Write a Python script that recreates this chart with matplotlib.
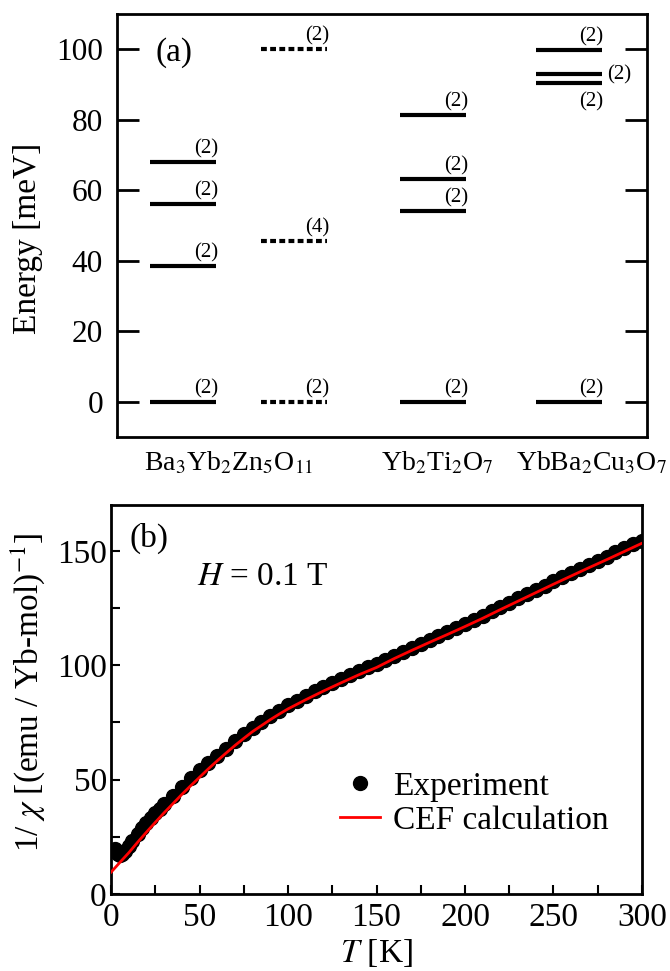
import matplotlib
matplotlib.use('Agg')
import matplotlib.pyplot as plt
from matplotlib.ticker import MultipleLocator
from matplotlib.lines import Line2D

plt.rcParams['font.family'] = ['Liberation Serif', 'DejaVu Serif']
plt.rcParams['mathtext.fontset'] = 'stix'

# ---- panel (a): CEF levels [meV] and degeneracies
compounds = ['Ba$_3$Yb$_2$Zn$_5$O$_{11}$', 'Yb$_2$Ti$_2$O$_7$', 'YbBa$_2$Cu$_3$O$_7$']
bayb_exp = [0, 38.6, 56.2, 68.1]
bayb_exp_deg = [2, 2, 2, 2]
bayb_calc = [0, 45.7, 100]
bayb_calc_deg = [2, 4, 2]
ybti = [0, 54.1, 63.3, 81.4]
ybti_deg = [2, 2, 2, 2]
ybba = [0, 90.3, 93.1, 99.8]
ybba_deg = [2, 2, 2, 2]

# ---- panel (b): inverse susceptibility
T_exp = [2, 3, 4, 5, 6, 8, 10, 12, 15, 17.5, 20, 22.5, 25, 27.5, 30, 35, 40, 45,
         50, 55, 60, 65, 70, 75, 80, 85, 90, 95, 100, 105, 110, 115, 120, 125,
         130, 135, 140, 145, 150, 155, 160, 165, 170, 175, 180, 185, 190, 195,
         200, 205, 210, 215, 220, 225, 230, 235, 240, 245, 250, 255, 260, 265,
         270, 275, 280, 285, 290, 295, 300]
inv_chi_exp = [19.5, 18.6, 17.6, 17.2, 17.5, 19.0, 21.0, 23.0, 26.3, 28.7, 31.0,
               33.1, 35.2, 37.2, 39.2, 43.0, 46.7, 50.5, 54.0, 57.3, 60.5, 63.5,
               66.8, 69.8, 72.6, 75.2, 77.7, 80.1, 82.4, 84.5, 86.5, 88.5, 90.4,
               92.2, 94.0, 95.7, 97.4, 99.0, 100.6, 102.3, 104.0, 105.7, 107.4,
               109.2, 111.0, 112.8, 114.5, 116.3, 118.1, 119.9, 121.7, 123.6,
               125.4, 127.3, 129.2, 131.0, 132.9, 134.7, 136.6, 138.4, 140.2,
               142.0, 143.9, 145.7, 147.5, 149.3, 151.1, 152.9, 154.3]
T_cef = [0, 5, 10, 15, 20, 25, 30, 35, 40, 45, 50, 55, 60, 65, 70, 75, 80, 85,
         90, 95, 100, 110, 120, 130, 140, 150, 160, 170, 180, 190, 200, 210,
         220, 230, 240, 250, 260, 270, 280, 290, 300]
inv_chi_cef = [9.5, 13.8, 18.0, 22.6, 27.0, 31.3, 35.5, 39.5, 43.5, 47.3, 51.0,
               54.7, 58.2, 61.6, 64.9, 68.0, 71.0, 73.6, 76.2, 78.6, 80.9, 84.9,
               88.7, 92.3, 95.8, 99.0, 102.9, 106.5, 110.0, 113.4, 116.9, 120.5,
               124.3, 128.0, 131.7, 135.4, 139.0, 142.6, 146.1, 149.7, 153.3]

fig = plt.figure(figsize=(6.7, 9.71), dpi=100)
ax1 = fig.add_axes([0.1746, 0.55, 0.791, 0.4356])
ax2 = fig.add_axes([0.1657, 0.0793, 0.7925, 0.4006])

# ---------------- (a)
centers = [1.244, 3.346, 5.966, 8.53]
hw = 0.62
columns = [(bayb_exp, bayb_exp_deg, '-'), (bayb_calc, bayb_calc_deg, (0, (1.4, 0.8))),
           (ybti, ybti_deg, '-'), (ybba, ybba_deg, '-')]
for i, (levels, degs, ls) in enumerate(columns):
    xc = centers[i]
    for j, (e, d) in enumerate(zip(levels, degs)):
        ax1.plot([xc - hw, xc + hw], [e, e], color='k', lw=3, ls=ls,
                 solid_capstyle='butt', dash_capstyle='butt')
        lx, ly, va = xc + hw - 0.18, e + 1.0, 'bottom'
        if i == 3 and j == 2:
            lx, ly, va = xc + hw + 0.33, e - 0.5, 'center'
        elif i == 3 and j == 1:
            lx, ly, va = xc + hw - 0.21, e - 5.1, 'center'
        elif i == 3:
            lx = xc + hw - 0.21
        ax1.text(lx, ly, '(%d)' % d, ha='center', va=va, fontsize=15)

ax1.set_xlim(0, 10)
ax1.set_ylim(-10, 110)
ax1.set_xticks([])
ax1.set_yticks([0, 20, 40, 60, 80, 100])
ax1.tick_params(axis='y', direction='in', length=16, width=2, labelsize=22.5,
                right=True, pad=10)
for s in ax1.spines.values():
    s.set_linewidth(2)
ax1.set_ylabel('Energy [meV]', fontsize=24)
ax1.yaxis.set_label_coords(-0.14, 0.47)
ax1.text(0.735, 99.1, '(a)', fontsize=24, ha='left', va='center')

label_x = [2.11, 6.05, 8.95]
for x, name in zip(label_x, compounds):
    ax1.text(x, -0.061, name, transform=ax1.get_xaxis_transform(),
             ha='center', va='center', fontsize=20)

# ---------------- (b)
ax2.plot(T_exp, inv_chi_exp, 'o', color='k', markersize=10, zorder=2)
ax2.plot(T_cef, inv_chi_cef, '-', color='#ff0000', lw=2, zorder=3)
ax2.set_xlim(0, 300)
ax2.set_ylim(0, 170)
ax2.xaxis.set_major_locator(MultipleLocator(50))
ax2.xaxis.set_minor_locator(MultipleLocator(25))
ax2.yaxis.set_major_locator(MultipleLocator(50))
ax2.yaxis.set_minor_locator(MultipleLocator(25))
ax2.tick_params(which='both', direction='in', length=6.5, width=1.5)
ax2.tick_params(axis='x', labelsize=24, pad=6)
ax2.tick_params(axis='y', labelsize=24, pad=3)
for s in ax2.spines.values():
    s.set_linewidth(2)
ax2.set_xlabel('$T$ [K]', fontsize=24)
ax2.xaxis.set_label_coords(0.5, -0.11)
ax2.set_ylabel(r'1/ $\chi$ [(emu / Yb-mol)$^{-1}$]', fontsize=24)
ax2.yaxis.set_label_coords(-0.12, 0.517)
ax2.text(10.7, 155.3, '(b)', fontsize=24, ha='left', va='center')
ax2.text(48.6, 138.6, '$H$ = 0.1 T', fontsize=24, ha='left', va='center')

handles = [Line2D([], [], marker='o', color='k', ls='none', markersize=10),
           Line2D([], [], color='#ff0000', lw=2)]
ax2.legend(handles, ['Experiment', 'CEF calculation'], loc='center left',
           bbox_to_anchor=(0.431, 0.233), frameon=False, fontsize=24,
           handlelength=1.2, handletextpad=0.4, labelspacing=0.1,
           borderpad=0, borderaxespad=0, numpoints=1)

fig.savefig('out.png', dpi=100)
